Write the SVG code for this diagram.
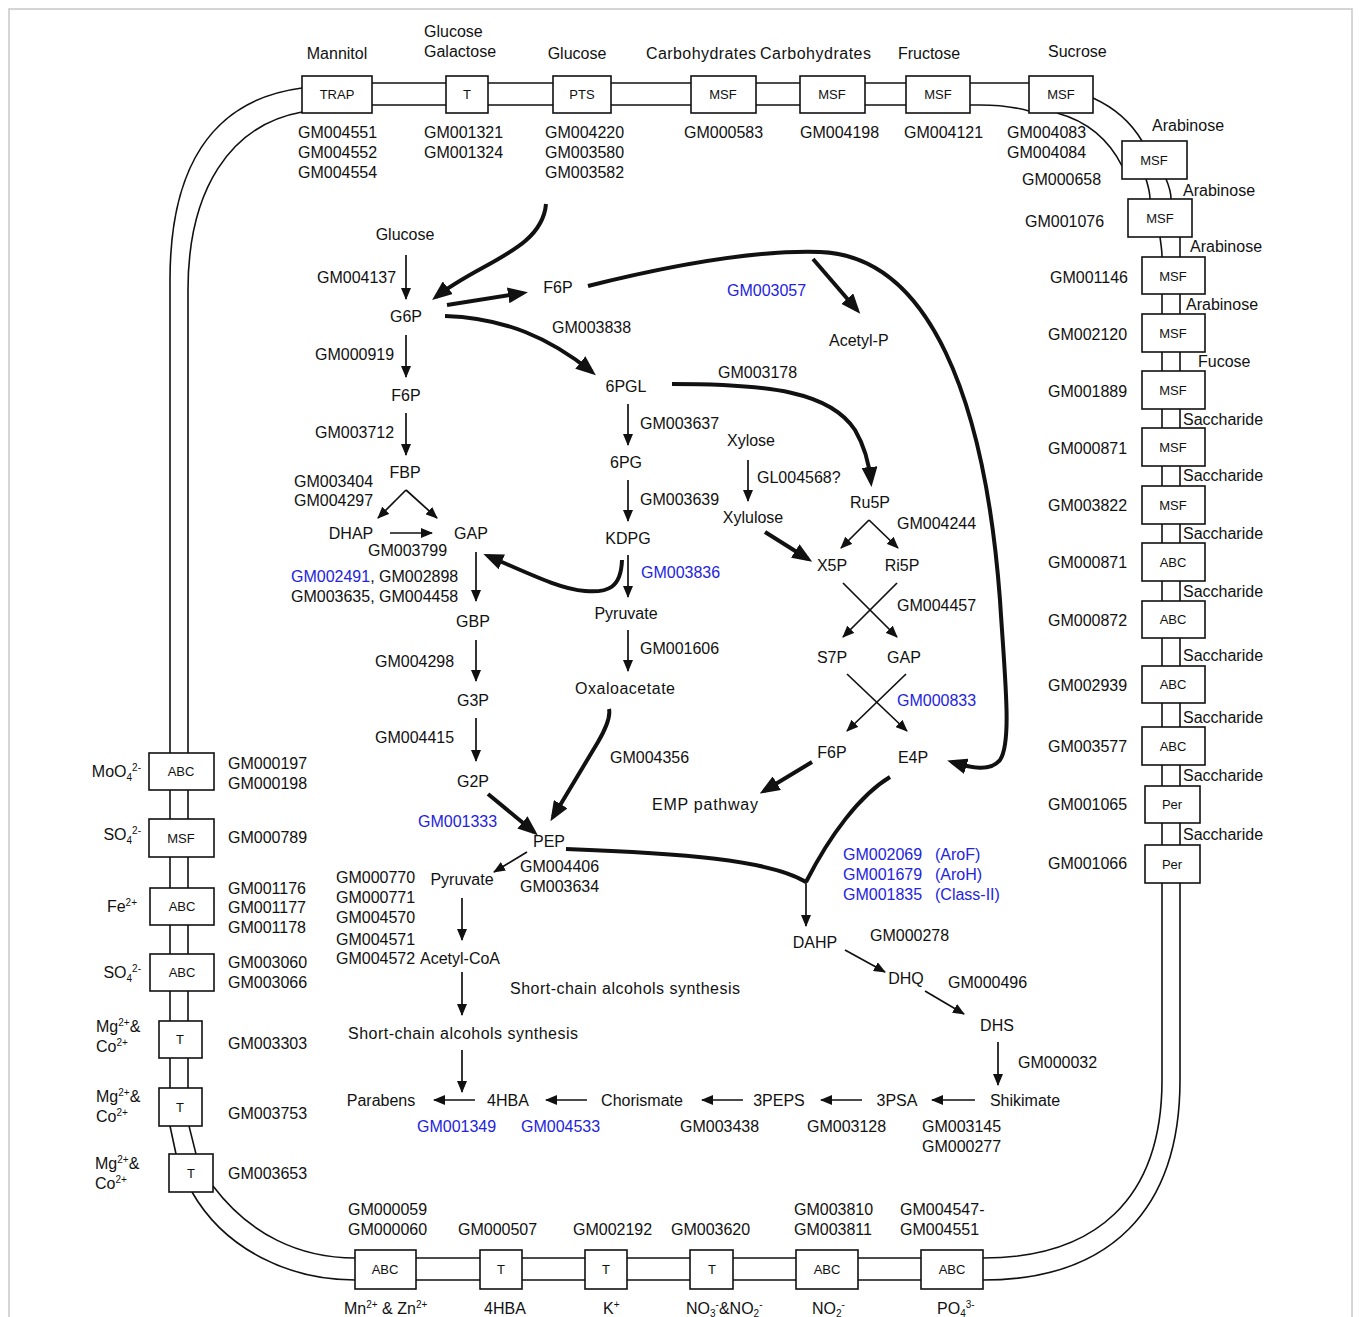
<svg xmlns="http://www.w3.org/2000/svg" width="1360" height="1317" viewBox="0 0 1360 1317">
<defs>
<style>
text{font-family:"Liberation Sans",Arial,sans-serif;font-size:16px;fill:#111}
.bl{font-size:13px;text-anchor:middle}
.m{text-anchor:middle}
.e{text-anchor:end}
.b{fill:#2323e0}
.sp{font-size:10px}
.box{fill:#fff;stroke:#111;stroke-width:1.6}
.mem{fill:none;stroke:#111;stroke-width:1.6}
.thin{fill:none;stroke:#111;stroke-width:1.7;marker-end:url(#a)}
.thick{fill:none;stroke:#111;stroke-width:4;marker-end:url(#A)}
.thickn{fill:none;stroke:#111;stroke-width:4}
</style>
<marker id="a" markerWidth="12" markerHeight="10" refX="11" refY="5" orient="auto" markerUnits="userSpaceOnUse"><path d="M0,0 L12,5 L0,10 z" fill="#111"/></marker>
<marker id="A" markerWidth="20" markerHeight="16" refX="15" refY="8" orient="auto" markerUnits="userSpaceOnUse"><path d="M0,0 L20,8 L0,16 z" fill="#111"/></marker>
</defs>
<rect x="0" y="0" width="1360" height="1317" fill="#fff"/>
<rect x="9" y="9" width="1343" height="1330" fill="none" stroke="#c8c8c8" stroke-width="1.5"/>

<g id="membrane">
<path class="mem" d="M372,83 L1029,83"/>
<path class="mem" d="M372,105 L980,105 C1000,105 1018,108 1029,111"/>
<path class="mem" d="M1093,98 C1115,108 1132,124 1142,141"/>
<path class="mem" d="M1057,113 C1090,122 1110,142 1122,166"/>
<path class="mem" d="M1146,179 C1148,186 1150,192 1150,199"/>
<path class="mem" d="M1166,179 C1169,186 1171,192 1171,199"/>
<path class="mem" d="M1160,237 C1161,245 1162,250 1162,257"/>
<path class="mem" d="M1180,237 L1180,257"/>
<path class="mem" d="M1162,294 L1162,1080 C1162,1200 1095,1258 983,1258"/>
<path class="mem" d="M1180,294 L1180,1080 C1180,1210 1110,1280 983,1280"/>
<path class="mem" d="M355,1258 L983,1258"/>
<path class="mem" d="M355,1280 L983,1280"/>
<path class="mem" d="M213,1186 C250,1235 300,1258 355,1258"/>
<path class="mem" d="M192,1192 C225,1250 290,1280 355,1280"/>
<path class="mem" d="M170,1126 L176,1154"/>
<path class="mem" d="M189,1126 L196,1154"/>
<path class="mem" d="M302,88 C210,100 170,170 170,280 L170,1088"/>
<path class="mem" d="M302,112 C230,125 188,190 188,290 L188,1088"/>
</g>

<g id="tr-trap"><rect class="box" x="302" y="76" width="70" height="37"/><text class="bl" x="337" y="99">TRAP</text><text class="m" x="337" y="59">Mannitol</text><text x="298" y="138">GM004551</text><text x="298" y="158">GM004552</text><text x="298" y="178">GM004554</text></g>
<g id="tr-t1"><rect class="box" x="446" y="76" width="42" height="37"/><text class="bl" x="467" y="99">T</text><text x="424" y="37">Glucose</text><text x="424" y="57">Galactose</text><text x="424" y="138">GM001321</text><text x="424" y="158">GM001324</text></g>
<g id="tr-pts"><rect class="box" x="553" y="76" width="58" height="37"/><text class="bl" x="582" y="99">PTS</text><text class="m" x="577" y="59">Glucose</text><text x="545" y="138">GM004220</text><text x="545" y="158">GM003580</text><text x="545" y="178">GM003582</text></g>
<g id="tr-msf1"><rect class="box" x="691" y="76" width="65" height="37"/><text class="bl" x="723" y="99">MSF</text><text x="646" y="59" textLength="110">Carbohydrates</text><text x="684" y="138">GM000583</text></g>
<g id="tr-msf2"><rect class="box" x="800" y="76" width="65" height="37"/><text class="bl" x="832" y="99">MSF</text><text x="760" y="59" textLength="111">Carbohydrates</text><text x="800" y="138">GM004198</text></g>
<g id="tr-msf3"><rect class="box" x="906" y="76" width="64" height="37"/><text class="bl" x="938" y="99">MSF</text><text class="m" x="929" y="59">Fructose</text><text x="904" y="138">GM004121</text></g>
<g id="tr-msf4"><rect class="box" x="1029" y="76" width="64" height="37"/><text class="bl" x="1061" y="99">MSF</text><text x="1048" y="57">Sucrose</text><text x="1007" y="138">GM004083</text><text x="1007" y="158">GM004084</text></g>

<g id="tr-r1"><rect class="box" x="1122" y="141" width="65" height="38"/><text class="bl" x="1154" y="165">MSF</text><text x="1152" y="131">Arabinose</text><text x="1022" y="185">GM000658</text></g>
<g id="tr-r2"><rect class="box" x="1128" y="199" width="64" height="38"/><text class="bl" x="1160" y="223">MSF</text><text x="1183" y="196">Arabinose</text><text x="1025" y="227">GM001076</text></g>
<g id="tr-r3"><rect class="box" x="1142" y="257" width="63" height="37"/><text class="bl" x="1173" y="281">MSF</text><text x="1190" y="252">Arabinose</text><text x="1050" y="283">GM001146</text></g>
<g id="tr-r4"><rect class="box" x="1142" y="314" width="63" height="38"/><text class="bl" x="1173" y="338">MSF</text><text x="1186" y="310">Arabinose</text><text x="1048" y="340">GM002120</text></g>
<g id="tr-r5"><rect class="box" x="1142" y="371" width="63" height="38"/><text class="bl" x="1173" y="395">MSF</text><text x="1198" y="367">Fucose</text><text x="1048" y="397">GM001889</text></g>
<g id="tr-r6"><rect class="box" x="1142" y="428" width="63" height="38"/><text class="bl" x="1173" y="452">MSF</text><text x="1183" y="425">Saccharide</text><text x="1048" y="454">GM000871</text></g>
<g id="tr-r7"><rect class="box" x="1142" y="486" width="63" height="38"/><text class="bl" x="1173" y="510">MSF</text><text x="1183" y="481">Saccharide</text><text x="1048" y="511">GM003822</text></g>
<g id="tr-r8"><rect class="box" x="1142" y="543" width="63" height="38"/><text class="bl" x="1173" y="567">ABC</text><text x="1183" y="539">Saccharide</text><text x="1048" y="568">GM000871</text></g>
<g id="tr-r9"><rect class="box" x="1142" y="601" width="63" height="37"/><text class="bl" x="1173" y="624">ABC</text><text x="1183" y="597">Saccharide</text><text x="1048" y="626">GM000872</text></g>
<g id="tr-r10"><rect class="box" x="1142" y="666" width="63" height="37"/><text class="bl" x="1173" y="689">ABC</text><text x="1183" y="661">Saccharide</text><text x="1048" y="691">GM002939</text></g>
<g id="tr-r11"><rect class="box" x="1142" y="727" width="63" height="38"/><text class="bl" x="1173" y="751">ABC</text><text x="1183" y="723">Saccharide</text><text x="1048" y="752">GM003577</text></g>
<g id="tr-r12"><rect class="box" x="1145" y="786" width="55" height="37"/><text class="bl" x="1172" y="809">Per</text><text x="1183" y="781">Saccharide</text><text x="1048" y="810">GM001065</text></g>
<g id="tr-r13"><rect class="box" x="1145" y="845" width="55" height="38"/><text class="bl" x="1172" y="869">Per</text><text x="1183" y="840">Saccharide</text><text x="1048" y="869">GM001066</text></g>

<g id="tr-l1"><rect class="box" x="149" y="753" width="65" height="37"/><text class="bl" x="181" y="776">ABC</text><text class="e" x="141" y="777">MoO<tspan class="sp" dy="4">4</tspan><tspan class="sp" dy="-10">2-</tspan></text><text x="228" y="769">GM000197</text><text x="228" y="789">GM000198</text></g>
<g id="tr-l2"><rect class="box" x="149" y="819" width="65" height="38"/><text class="bl" x="181" y="843">MSF</text><text class="e" x="141" y="840">SO<tspan class="sp" dy="4">4</tspan><tspan class="sp" dy="-10">2-</tspan></text><text x="228" y="843">GM000789</text></g>
<g id="tr-l3"><rect class="box" x="150" y="888" width="64" height="37"/><text class="bl" x="182" y="911">ABC</text><text class="e" x="137" y="912">Fe<tspan class="sp" dy="-6">2+</tspan></text><text x="228" y="894">GM001176</text><text x="228" y="913">GM001177</text><text x="228" y="933">GM001178</text></g>
<g id="tr-l4"><rect class="box" x="150" y="954" width="64" height="37"/><text class="bl" x="182" y="977">ABC</text><text class="e" x="141" y="978">SO<tspan class="sp" dy="4">4</tspan><tspan class="sp" dy="-10">2-</tspan></text><text x="228" y="968">GM003060</text><text x="228" y="988">GM003066</text></g>
<g id="tr-l5"><rect class="box" x="159" y="1021" width="43" height="37"/><text class="bl" x="180" y="1044">T</text><text x="96" y="1032">Mg<tspan class="sp" dy="-6">2+</tspan><tspan dy="6">&amp;</tspan></text><text x="96" y="1052">Co<tspan class="sp" dy="-6">2+</tspan></text><text x="228" y="1049">GM003303</text></g>
<g id="tr-l6"><rect class="box" x="159" y="1088" width="43" height="38"/><text class="bl" x="180" y="1112">T</text><text x="96" y="1102">Mg<tspan class="sp" dy="-6">2+</tspan><tspan dy="6">&amp;</tspan></text><text x="96" y="1122">Co<tspan class="sp" dy="-6">2+</tspan></text><text x="228" y="1119">GM003753</text></g>
<g id="tr-l7"><rect class="box" x="169" y="1154" width="44" height="38"/><text class="bl" x="191" y="1178">T</text><text x="95" y="1169">Mg<tspan class="sp" dy="-6">2+</tspan><tspan dy="6">&amp;</tspan></text><text x="95" y="1189">Co<tspan class="sp" dy="-6">2+</tspan></text><text x="228" y="1179">GM003653</text></g>

<g id="tr-b1"><rect class="box" x="355" y="1250" width="61" height="39"/><text class="bl" x="385" y="1274">ABC</text><text x="348" y="1215">GM000059</text><text x="348" y="1235">GM000060</text><text x="344" y="1314">Mn<tspan class="sp" dy="-6">2+</tspan><tspan dy="6"> &amp; Zn</tspan><tspan class="sp" dy="-6">2+</tspan></text></g>
<g id="tr-b2"><rect class="box" x="480" y="1250" width="42" height="39"/><text class="bl" x="501" y="1274">T</text><text x="458" y="1235">GM000507</text><text class="m" x="505" y="1314">4HBA</text></g>
<g id="tr-b3"><rect class="box" x="585" y="1250" width="42" height="39"/><text class="bl" x="606" y="1274">T</text><text x="573" y="1235">GM002192</text><text x="603" y="1314">K<tspan class="sp" dy="-6">+</tspan></text></g>
<g id="tr-b4"><rect class="box" x="690" y="1250" width="43" height="39"/><text class="bl" x="712" y="1274">T</text><text x="671" y="1235">GM003620</text><text x="686" y="1314">NO<tspan class="sp" dy="3">3</tspan><tspan class="sp" dy="-9">-</tspan><tspan dy="6">&amp;NO</tspan><tspan class="sp" dy="3">2</tspan><tspan class="sp" dy="-9">-</tspan></text></g>
<g id="tr-b5"><rect class="box" x="796" y="1250" width="62" height="39"/><text class="bl" x="827" y="1274">ABC</text><text x="794" y="1215">GM003810</text><text x="794" y="1235">GM003811</text><text x="812" y="1314">NO<tspan class="sp" dy="3">2</tspan><tspan class="sp" dy="-9">-</tspan></text></g>
<g id="tr-b6"><rect class="box" x="921" y="1250" width="62" height="39"/><text class="bl" x="952" y="1274">ABC</text><text x="900" y="1215">GM004547-</text><text x="900" y="1235">GM004551</text><text x="937" y="1314">PO<tspan class="sp" dy="3">4</tspan><tspan class="sp" dy="-9">3-</tspan></text></g>

<g id="connectors">
<path class="thin" d="M406,255 L406,299"/>
<path class="thin" d="M406,335 L406,377"/>
<path class="thin" d="M406,413 L406,455"/>
<path class="thin" d="M406,490 L378,518"/>
<path class="thin" d="M406,490 L437,518"/>
<path class="thin" d="M390,533 L432,533"/>
<path class="thin" d="M476,552 L476,601"/>
<path class="thin" d="M476,640 L476,681"/>
<path class="thin" d="M476,718 L476,761"/>
<path class="thin" d="M527,852 L494,872"/>
<path class="thin" d="M462,898 L462,940"/>
<path class="thin" d="M462,972 L462,1015"/>
<path class="thin" d="M462,1050 L462,1092"/>
<path class="thin" d="M475,1100 L434,1100"/>
<path class="thin" d="M587,1100 L546,1100"/>
<path class="thin" d="M743,1100 L702,1100"/>
<path class="thin" d="M862,1100 L821,1100"/>
<path class="thin" d="M975,1100 L932,1100"/>
<path class="thin" d="M998,1042 L998,1085"/>
<path class="thin" d="M925,991 L964,1014"/>
<path class="thin" d="M845,950 L885,972"/>
<path class="thin" d="M806,882 L806,926"/>
<path class="thin" d="M628,404 L628,445"/>
<path class="thin" d="M628,480 L628,521"/>
<path class="thin" d="M628,555 L628,597"/>
<path class="thin" d="M628,630 L628,671"/>
<path class="thin" d="M748,460 L748,501"/>
<path class="thin" d="M869,520 L841,548"/>
<path class="thin" d="M869,520 L898,548"/>
<path class="thin" d="M843,583 L897,637"/>
<path class="thin" d="M897,583 L843,637"/>
<path class="thin" d="M847,674 L907,731"/>
<path class="thin" d="M906,674 L847,731"/>
<path class="thick" d="M546,204 C542,250 480,262 436,297"/>
<path class="thick" d="M447,305 L523,293"/>
<path class="thick" d="M445,316 C505,318 550,338 592,372"/>
<path class="thick" d="M588,286 C680,263 760,250 820,252 C930,256 985,400 1000,600 C1005,680 1012,742 1000,760 C990,772 972,768 952,762"/>
<path class="thick" d="M813,259 L857,310"/>
<path class="thick" d="M672,384 C770,384 830,392 855,430 C865,447 869,462 871,482"/>
<path class="thick" d="M765,532 L808,559"/>
<path class="thick" d="M622,560 C621,588 608,593 585,591 C560,589 530,574 488,556"/>
<path class="thick" d="M488,794 L534,832"/>
<path class="thick" d="M609,709 C611,718 605,730 598,742 L553,817"/>
<path class="thick" d="M812,762 L764,791"/>
<path class="thickn" d="M566,849 C680,853 770,860 806,882"/>
<path class="thickn" d="M890,777 C860,795 830,835 806,882"/>
</g>

<g id="metabolites">
<text id="glucose" class="m" x="405" y="240">Glucose</text>
<text id="g6p" class="m" x="406" y="322">G6P</text>
<text id="f6p-a" class="m" x="406" y="401">F6P</text>
<text id="fbp" class="m" x="405" y="478">FBP</text>
<text id="dhap" class="m" x="351" y="539">DHAP</text>
<text id="gap-a" class="m" x="471" y="539">GAP</text>
<text id="gbp" class="m" x="473" y="627">GBP</text>
<text id="g3p" class="m" x="473" y="706">G3P</text>
<text id="g2p" class="m" x="473" y="787">G2P</text>
<text id="pep" class="m" x="549" y="847">PEP</text>
<text id="pyruvate-a" class="m" x="462" y="885">Pyruvate</text>
<text id="acetylcoa" x="420" y="964">Acetyl-CoA</text>
<text id="sca-a" x="510" y="994" textLength="230">Short-chain alcohols synthesis</text>
<text id="sca-b" x="348" y="1039" textLength="230">Short-chain alcohols synthesis</text>
<text id="parabens" class="m" x="381" y="1106">Parabens</text>
<text id="hba" class="m" x="508" y="1106">4HBA</text>
<text id="chorismate" class="m" x="642" y="1106">Chorismate</text>
<text id="peps" class="m" x="779" y="1106">3PEPS</text>
<text id="psa" class="m" x="897" y="1106">3PSA</text>
<text id="shikimate" class="m" x="1025" y="1106">Shikimate</text>
<text id="f6p-b" class="m" x="558" y="293">F6P</text>
<text id="acetylp" x="829" y="346">Acetyl-P</text>
<text id="pgl" class="m" x="626" y="392">6PGL</text>
<text id="pg" class="m" x="626" y="468">6PG</text>
<text id="kdpg" class="m" x="628" y="544">KDPG</text>
<text id="pyruvate-b" class="m" x="626" y="619">Pyruvate</text>
<text id="oxaloacetate" x="575" y="694" textLength="100">Oxaloacetate</text>
<text id="xylose" class="m" x="751" y="446">Xylose</text>
<text id="xylulose" class="m" x="753" y="523">Xylulose</text>
<text id="ru5p" class="m" x="870" y="508">Ru5P</text>
<text id="x5p" class="m" x="832" y="571">X5P</text>
<text id="ri5p" class="m" x="902" y="571">Ri5P</text>
<text id="s7p" class="m" x="832" y="663">S7P</text>
<text id="gap-b" class="m" x="904" y="663">GAP</text>
<text id="f6p-c" class="m" x="832" y="758">F6P</text>
<text id="e4p" class="m" x="913" y="763">E4P</text>
<text id="emp" x="652" y="810" textLength="106">EMP pathway</text>
<text id="dahp" class="m" x="815" y="948">DAHP</text>
<text id="dhq" class="m" x="906" y="984">DHQ</text>
<text id="dhs" class="m" x="997" y="1031">DHS</text>
</g>

<g id="enzymes">
<text x="317" y="283">GM004137</text>
<text x="315" y="360">GM000919</text>
<text x="315" y="438">GM003712</text>
<text x="294" y="487">GM003404</text>
<text x="294" y="506">GM004297</text>
<text x="368" y="556">GM003799</text>
<text x="291" y="582"><tspan class="b">GM002491</tspan>, GM002898</text>
<text x="291" y="602">GM003635, GM004458</text>
<text x="375" y="667">GM004298</text>
<text x="375" y="743">GM004415</text>
<text class="b" x="418" y="827">GM001333</text>
<text x="520" y="872">GM004406</text>
<text x="520" y="892">GM003634</text>
<text x="336" y="883">GM000770</text>
<text x="336" y="903">GM000771</text>
<text x="336" y="923">GM004570</text>
<text x="336" y="945">GM004571</text>
<text x="336" y="964">GM004572</text>
<text class="b" x="417" y="1132">GM001349</text>
<text class="b" x="521" y="1132">GM004533</text>
<text x="680" y="1132">GM003438</text>
<text x="807" y="1132">GM003128</text>
<text x="922" y="1132">GM003145</text>
<text x="922" y="1152">GM000277</text>
<text class="b" x="727" y="296">GM003057</text>
<text x="552" y="333">GM003838</text>
<text x="718" y="378">GM003178</text>
<text x="640" y="429">GM003637</text>
<text x="640" y="505">GM003639</text>
<text class="b" x="641" y="578">GM003836</text>
<text x="640" y="654">GM001606</text>
<text x="610" y="763">GM004356</text>
<text x="757" y="483">GL004568?</text>
<text x="897" y="529">GM004244</text>
<text x="897" y="611">GM004457</text>
<text class="b" x="897" y="706">GM000833</text>
<text class="b" x="843" y="860">GM002069<tspan x="935">(AroF)</tspan></text>
<text class="b" x="843" y="880">GM001679<tspan x="935">(AroH)</tspan></text>
<text class="b" x="843" y="900">GM001835<tspan x="935">(Class-II)</tspan></text>
<text x="870" y="941">GM000278</text>
<text x="948" y="988">GM000496</text>
<text x="1018" y="1068">GM000032</text>
</g>
</svg>
